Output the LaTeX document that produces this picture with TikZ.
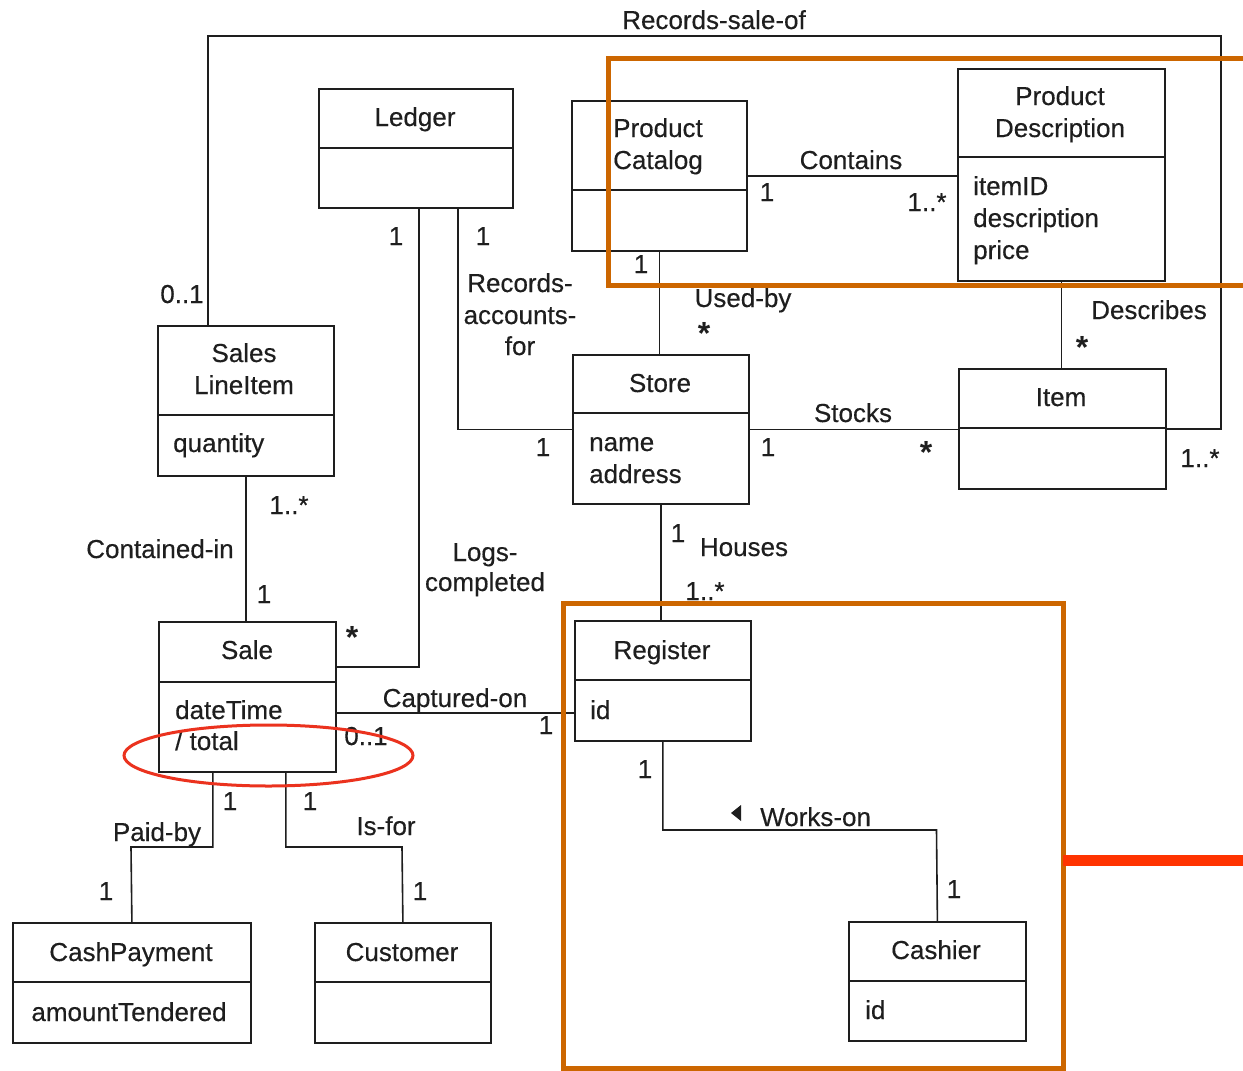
\documentclass[tikz,border=0pt]{standalone}
\usepackage{fontspec}
\setmainfont{Liberation Sans}[UprightFeatures={FakeBold=0.35}]
\definecolor{ink}{RGB}{30,30,30}
\definecolor{hiorange}{RGB}{204,102,0}
\definecolor{hired}{RGB}{255,51,0}
\definecolor{ringred}{RGB}{235,50,30}
\newcommand\compartment[2]{\draw[conn] ([yshift=-#2pt]#1.north west) -- ([yshift=-#2pt]#1.north east);}
\begin{document}
\begin{tikzpicture}[x=1pt,y=-1pt,
  umlbox/.style={draw=ink, line width=1.8pt, inner sep=0pt, anchor=north west},
  conn/.style={draw=ink, line width=1.6pt},
  txt/.style={text=ink, inner sep=0pt, font=\fontsize{26}{32}\selectfont, anchor=base},
  txl/.style={txt, anchor=base west},
  starlbl/.style={txt, font=\fontsize{32}{32}\selectfont\bfseries},
  hibox/.style={draw=hiorange, line width=5pt},
]
\fill[white] (0,0) rectangle (1243,1071);
\clip (0,0) rectangle (1243,1071);

% ---- classes ----
\node[umlbox, minimum width=194pt, minimum height=119pt] (ledger)   at (318,88)  {};
\node[umlbox, minimum width=175pt, minimum height=150pt] (catalog)  at (571,100) {};
\node[umlbox, minimum width=207pt, minimum height=212pt] (proddesc) at (957,68)  {};
\node[umlbox, minimum width=176pt, minimum height=150pt] (lineitem) at (157,325) {};
\node[umlbox, minimum width=176pt, minimum height=149pt] (store)    at (572,354) {};
\node[umlbox, minimum width=207pt, minimum height=120pt] (item)     at (958,368) {};
\node[umlbox, minimum width=177pt, minimum height=150pt] (sale)     at (158,621) {};
\node[umlbox, minimum width=176pt, minimum height=120pt] (register) at (574,620) {};
\node[umlbox, minimum width=238pt, minimum height=120pt] (cash)     at (12,922)  {};
\node[umlbox, minimum width=176pt, minimum height=120pt] (customer) at (314,922) {};
\node[umlbox, minimum width=177pt, minimum height=119pt] (cashier)  at (848,921) {};

\compartment{ledger}{60}
\compartment{catalog}{90}
\compartment{proddesc}{89}
\compartment{lineitem}{90}
\compartment{store}{59}
\compartment{item}{60}
\compartment{sale}{61}
\compartment{register}{60}
\compartment{cash}{60}
\compartment{customer}{60}
\compartment{cashier}{60}

% ---- class names and attributes ----
\node[txt] (tLedger) at (415,126) {Ledger};
\node[txl] (tCat1) at (613,137) {Product};
\node[txl] (tCat2) at (613,169) {Catalog};
\node[txt] (tPd1) at (1060,105) {Product};
\node[txt] (tPd2) at (1060,137) {Description};
\node[txl] (aPd1) at (973,195) {itemID};
\node[txl] (aPd2) at (973,227) {description};
\node[txl] (aPd3) at (973,259) {price};
\node[txt] (tLi1) at (244,362) {Sales};
\node[txt] (tLi2) at (244,394) {LineItem};
\node[txl] (aLi) at (173,452) {quantity};
\node[txt] (tStore) at (660,392) {Store};
\node[txl] (aSt1) at (589,451) {name};
\node[txl] (aSt2) at (589,483) {address};
\node[txt] (tItem) at (1061,406) {Item};
\node[txt] (tSale) at (247,659) {Sale};
\node[txl] (aSa1) at (175,719) {dateTime};
\node[txl] (aSa2) at (175,750) {/ total};
\node[txt] (tReg) at (662,659) {Register};
\node[txl] (aReg) at (590,719) {id};
\node[txt] (tCash) at (131,961) {CashPayment};
\node[txt] (aCash) at (129,1021) {amountTendered};
\node[txt] (tCust) at (402,961) {Customer};
\node[txt] (tCashier) at (936,959) {Cashier};
\node[txl] (aCashier) at (865,1019) {id};

% ---- associations ----
\coordinate (rsCorner) at (1221,36);
\draw[conn] ([xshift=-38pt]lineitem.north) |- (rsCorner) |- (item.east);
\draw[conn] (catalog.east) -- (proddesc.west |- catalog.east);
\draw[conn] ([xshift=3pt]ledger.south) |- ([yshift=30pt]sale.east);
\draw[conn] ([xshift=42pt]ledger.south) |- (store.west);
\draw[conn] (catalog.south) -- (catalog.south |- store.north);
\draw[conn] (proddesc.south) -- (proddesc.south |- item.north);
\draw[conn] (store.east) -- (item.west |- store.east);
\draw[conn] (store.south) -- (store.south |- register.north);
\draw[conn] (lineitem.south) -- (lineitem.south |- sale.north);
\coordinate (captEnd) at ([yshift=-16pt]sale.east);
\draw[conn] (captEnd) -- (register.west |- captEnd);
\coordinate (paidBend) at (131,847);
\draw[conn] ([xshift=-34.5pt]sale.south) |- (paidBend) -- (cash.north);
\coordinate (isforBend) at (402,847);
\draw[conn] ([xshift=38.5pt]sale.south) |- (isforBend) -- (customer.north);
\coordinate (worksBend) at (936.5,830);
\draw[conn] (register.south) |- (worksBend) -- (cashier.north);
% reading-direction marker of Works-on
\fill[ink] (731,813) -- (741,805) -- (741,821) -- cycle;

% ---- association names ----
\node[txt] (nRecSale) at (714,29) {Records-sale-of};
\node[txt] (nContains) at (851,169) {Contains};
\node[txt] (nRa1) at (520,292) {Records-};
\node[txt] (nRa2) at (520,324) {accounts-};
\node[txt] (nRa3) at (520,355) {for};
\node[txt] (nUsed) at (743,307) {Used-by};
\node[txt] (nDesc) at (1149,319) {Describes};
\node[txt] (nStocks) at (853,422) {Stocks};
\node[txt] (nHouses) at (744,556) {Houses};
\node[txt] (nCont) at (160,558) {Contained-in};
\node[txt] (nLogs1) at (485,561) {Logs-};
\node[txt] (nLogs2) at (485,591) {completed};
\node[txt] (nCapt) at (455,707) {Captured-on};
\node[txt] (nPaid) at (157,841) {Paid-by};
\node[txt] (nIsfor) at (386,835) {Is-for};
\node[txl] (nWorks) at (760,826) {Works-on};

% ---- multiplicities ----
\node[txt] (m1) at (182,303) {0..1};
\node[txt] (m2) at (1200,467) {1..*};
\node[txt] (m3) at (396,245) {1};
\node[txt] (m4) at (483,245) {1};
\node[txt] (m5) at (767,201) {1};
\node[txt] (m6) at (927,211) {1..*};
\node[txt] (m7) at (641,273) {1};
\node[starlbl] (m8) at (704,344) {*};
\node[starlbl] (m9) at (1082,358) {*};
\node[txt] (m10) at (543,456) {1};
\node[txt] (m11) at (768,456) {1};
\node[starlbl] (m12) at (926,463) {*};
\node[txt] (m13) at (678,542) {1};
\node[txt] (m14) at (705,600) {1..*};
\node[txt] (m15) at (289,514) {1..*};
\node[txt] (m16) at (264,603) {1};
\node[starlbl] (m17) at (352,648) {*};
\node[txt] (m18) at (366,745) {0..1};
\node[txt] (m19) at (546,734) {1};
\node[txt] (m20) at (230,810) {1};
\node[txt] (m21) at (310,810) {1};
\node[txt] (m22) at (106,900) {1};
\node[txt] (m23) at (420,900) {1};
\node[txt] (m24) at (645,778) {1};
\node[txt] (m25) at (954,898) {1};

% ---- highlights ----
\draw[hibox] (608,58) rectangle (1270,285);
\draw[hibox] (563,603) rectangle (1063,1068);
\draw[hired, line width=11pt] (1063,860) -- (1260,860);
\draw[ringred, line width=3pt] (268.5,755.5) ellipse [x radius=144.5, y radius=30.5];
\end{tikzpicture}
\end{document}
